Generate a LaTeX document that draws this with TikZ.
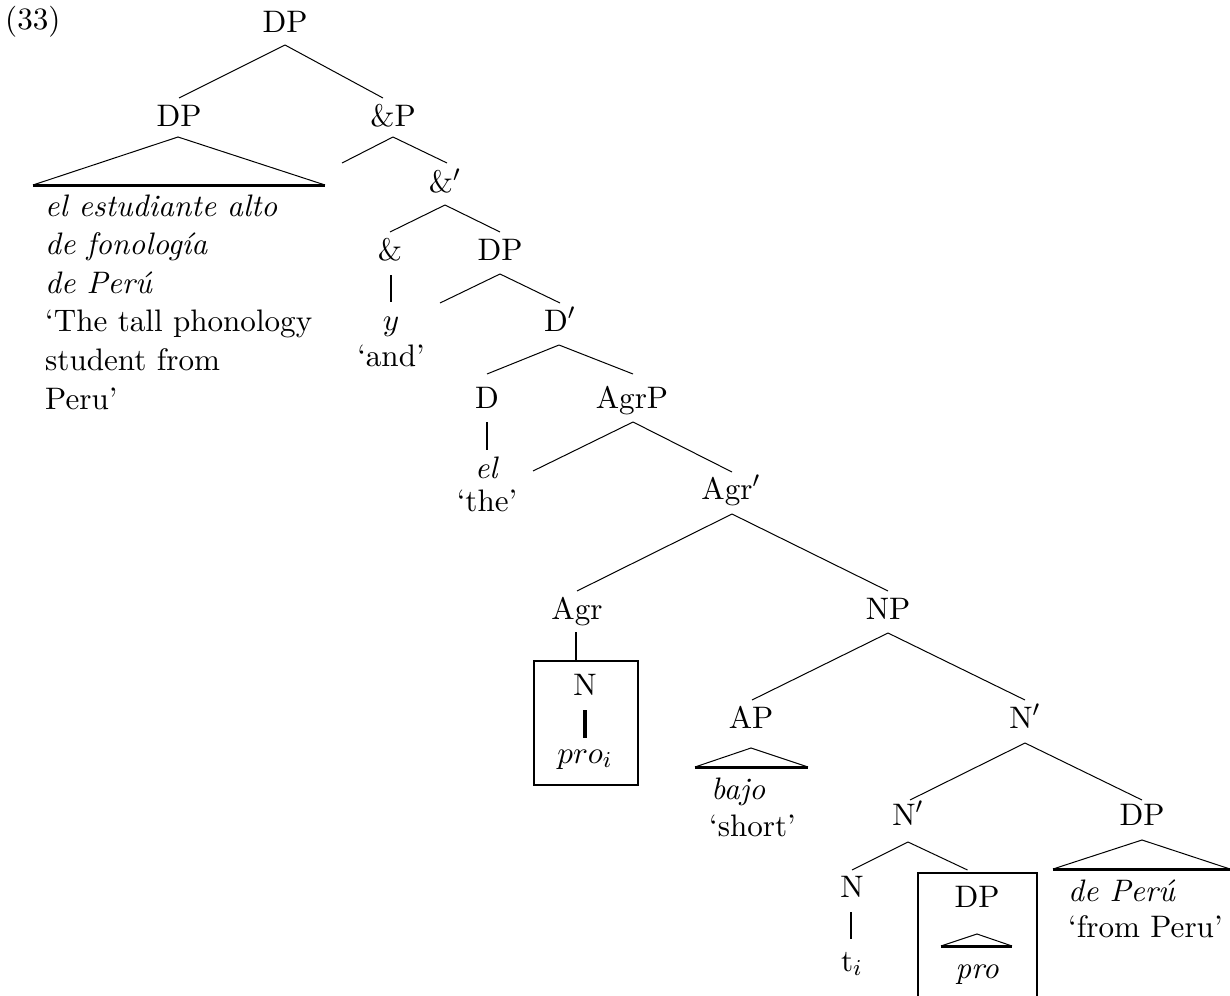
\documentclass[tikz,border=0pt]{standalone}
\usepackage{graphicx}
\usetikzlibrary{calc}
\newcommand{\tx}[1]{\scalebox{2.84}{\fontsize{10.95}{13.6}\selectfont #1}}
\tikzset{
  lab/.style={inner sep=0pt, anchor=base},
  labw/.style={inner sep=0pt, anchor=base west},
  edge/.style={line width=1pt},
  unary/.style={line width=2.6pt},
  unarythick/.style={line width=3.6pt},
  tribase/.style={line width=3pt},
  boxnode/.style={draw, line width=2pt, inner sep=0pt, anchor=north west},
}
\begin{document}
\begin{tikzpicture}[x=1pt,y=-1pt]
\useasboundingbox (0,0) rectangle (1230,995);
% labels
\node[labw] (ex) at (5,30) {\tx{(33)}};
\node[lab] (dp0) at (285,33) {\tx{DP}};
\node[lab] (dp1) at (179,127) {\tx{DP}};
\node[lab] (andp) at (393,127) {\tx{\&P}};
\node[lab] (andbar) at (445,193) {\tx{\&$'$}};
\node[lab] (conj) at (390,260) {\tx{\&}};
\node[lab] (dp2) at (500,260) {\tx{DP}};
\node[lab] (y) at (391,330) {\tx{$y$}};
\node[lab] (and) at (391,366) {\tx{`and'}};
\node[lab] (dbar) at (560,331) {\tx{D$'$}};
\node[lab] (d) at (487,408) {\tx{D}};
\node[lab] (agrp) at (632,408) {\tx{AgrP}};
\node[lab] (el) at (487,478) {\tx{\textit{el}}};
\node[lab] (the) at (487,511) {\tx{`the'}};
\node[lab] (agrbar) at (731,499) {\tx{Agr$'$}};
\node[lab] (agr) at (577,619) {\tx{Agr}};
\node[lab] (np) at (888,619) {\tx{NP}};
\node[lab] (nbox) at (585,695) {\tx{N}};
\node[lab] (proi) at (585,763) {\tx{$pro_i$}};
\node[lab] (ap) at (751,728) {\tx{AP}};
\node[lab] (nbar1) at (1025,728) {\tx{N$'$}};
\node[labw] (bajo) at (711,799) {\tx{\textit{bajo}}};
\node[labw] (short) at (709,836) {\tx{`short'}};
\node[lab] (nbar2) at (908,825) {\tx{N$'$}};
\node[lab] (dp3) at (1142,825) {\tx{DP}};
\node[lab] (n) at (852,897) {\tx{N}};
\node[lab] (ti) at (852,971) {\tx{t$_i$}};
\node[lab] (dp4) at (977,907) {\tx{DP}};
\node[lab] (pro) at (977,978) {\tx{\textit{pro}}};
\node[labw] (deperu) at (1068,901) {\tx{\textit{de Perú}}};
\node[labw] (fromperu) at (1068,937) {\tx{`from Peru'}};
\node[labw] (lefttext) at (45,216) {\tx{\begin{tabular}[t]{@{}l@{}}\textit{el estudiante alto}\\ \textit{de fonología}\\ \textit{de Perú}\\ `The tall phonology\\ student from\\ Peru'\end{tabular}}};
% boxes
\node[boxnode, minimum width=104pt, minimum height=124pt] (box1) at (533,660) {};
\node[boxnode, minimum width=119pt, minimum height=150pt] (box2) at (917,872) {};
% free ends
\coordinate (f1) at (342,163);
\coordinate (f2) at (440,303);
\coordinate (f3) at (533,471);
% branches
\draw[edge] ($(dp0.base)+(0,12)$) -- ($(dp1.base)+(0,-29)$);
\draw[edge] ($(dp0.base)+(0,12)$) -- ($(andp.base)+(-10,-29)$);
\draw[edge] ($(andp.base)+(0,10)$) -- (f1);
\draw[edge] ($(andp.base)+(0,10)$) -- ($(andbar.base)+(2,-30)$);
\draw[edge] ($(andbar.base)+(0,12)$) -- ($(conj.base)+(0,-28)$);
\draw[edge] ($(andbar.base)+(0,12)$) -- ($(dp2.base)+(0,-28)$);
\draw[unary] ($(conj.base)+(1,15)$) -- ($(y.base)+(0,-28)$);
\draw[edge] ($(dp2.base)+(0,14)$) -- (f2);
\draw[edge] ($(dp2.base)+(0,14)$) -- ($(dbar.base)+(0,-28)$);
\draw[edge] ($(dbar.base)+(-1,14)$) -- ($(d.base)+(0,-34)$);
\draw[edge] ($(dbar.base)+(-1,14)$) -- ($(agrp.base)+(1,-34)$);
\draw[unary] ($(d.base)+(0,14)$) -- ($(el.base)+(0,-28)$);
\draw[edge] ($(agrp.base)+(1,14)$) -- (f3);
\draw[edge] ($(agrp.base)+(1,14)$) -- ($(agrbar.base)+(1,-27)$);
\draw[edge] ($(agrbar.base)+(1,15)$) -- ($(agr.base)+(0,-28)$);
\draw[edge] ($(agrbar.base)+(1,15)$) -- ($(np.base)+(0,-28)$);
\draw[unary] ($(agr.base)+(-1,13)$) coordinate (a1) -- (a1 |- box1.north);
\draw[unarythick] ($(nbox.base)+(0,15)$) -- ($(proi.base)+(0,-25)$);
\draw[edge] ($(np.base)+(0,14)$) -- ($(ap.base)+(1,-28)$);
\draw[edge] ($(np.base)+(0,14)$) -- ($(nbar1.base)+(0,-28)$);
\draw[edge] ($(nbar1.base)+(0,15)$) -- ($(nbar2.base)+(2,-25)$);
\draw[edge] ($(nbar1.base)+(0,15)$) -- ($(dp3.base)+(0,-25)$);
\draw[edge] ($(nbar2.base)+(0,17)$) -- ($(n.base)+(0,-27)$);
\draw[edge] ($(nbar2.base)+(0,17)$) -- ($(box2.north)+(-10,-2)$);
\draw[unary] ($(n.base)+(-1,15)$) -- ($(ti.base)+(-1,-32)$);
% triangles
\draw[edge] (33,185) -- ($(dp1.base)+(-1,10)$) -- (325,185);
\draw[tribase] (33,185) -- (325,185);
\draw[edge] (695,767) -- ($(ap.base)+(0,20)$) -- (808,767);
\draw[tribase] (695,767) -- (808,767);
\draw[edge] (1053,869) -- ($(dp3.base)+(0,15)$) -- (1230,869);
\draw[tribase] (1053,869) -- (1230,869);
\draw[edge] (941,946) -- ($(dp4.base)+(0,27)$) -- (1012,946);
\draw[tribase] (941,946) -- (1012,946);
\end{tikzpicture}
\end{document}
